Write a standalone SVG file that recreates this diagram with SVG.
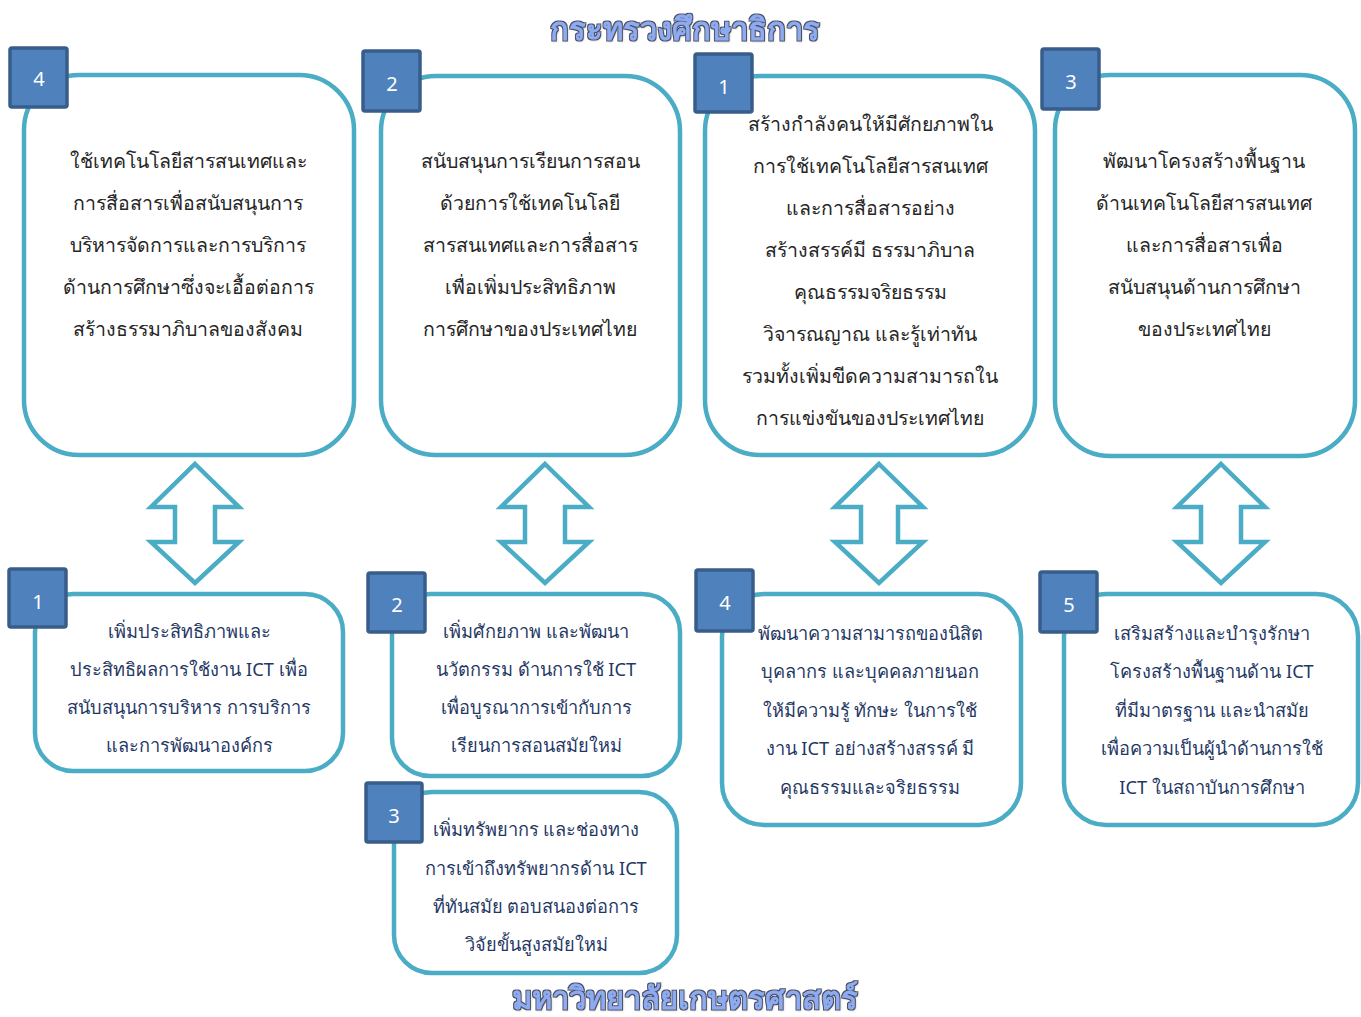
<svg xmlns="http://www.w3.org/2000/svg" width="1361" height="1017" viewBox="0 0 1361 1017">
<style>
.box{fill:#fff;stroke:#4bacc6;stroke-width:4.5}
.badge{fill:#4f81bd;stroke:#385d8a;stroke-width:3.5}
.num{font-family:"Noto Sans","Liberation Sans",sans-serif;font-size:20px;fill:#fff;text-anchor:middle}
.tt{font-family:"Noto Sans","Liberation Sans",sans-serif;font-size:19.5px;fill:#262626;text-anchor:middle}
.bt{font-family:"Noto Sans","Liberation Sans",sans-serif;font-size:18.2px;fill:#1f3864;text-anchor:middle}
.title{font-family:"Noto Sans","Liberation Sans",sans-serif;font-size:31px;font-weight:bold;fill:#8eaaf0;text-anchor:middle;filter:url(#sh)}
.arr{fill:#fff;stroke:#4bacc6;stroke-width:4.5;stroke-linejoin:miter}
</style>
<defs>
<filter id="sh" x="-10%" y="-30%" width="120%" height="160%">
<feMorphology in="SourceAlpha" operator="dilate" radius="0.6" result="d"/>
<feFlood flood-color="#4a4f62" result="c"/>
<feComposite in="c" in2="d" operator="in" result="outline"/>
<feGaussianBlur in="SourceAlpha" stdDeviation="1" result="b"/>
<feOffset in="b" dx="1.2" dy="1.2" result="ob"/>
<feFlood flood-color="#999" flood-opacity="0.7"/>
<feComposite in2="ob" operator="in" result="shadow"/>
<feMerge><feMergeNode in="shadow"/><feMergeNode in="outline"/><feMergeNode in="SourceGraphic"/></feMerge>
</filter>
</defs>
<rect width="1361" height="1017" fill="#fff"/>
<text class="title" x="685" y="40">กระทรวงศึกษาธิการ</text>
<text class="title" x="685" y="1009">มหาวิทยาลัยเกษตรศาสตร์</text>

<g id="connectors">
<polygon class="arr" points="195,464 239,507 215,507 215,542 239,542 195,583 151,542 175,542 175,507 151,507"/>
<polygon class="arr" points="545,464 589,507 565,507 565,542 589,542 545,583 501,542 525,542 525,507 501,507"/>
<polygon class="arr" points="879,464 923,507 898,507 898,542 923,542 879,583 835,542 861,542 861,507 835,507"/>
<polygon class="arr" points="1221,464 1265,507 1241,507 1241,542 1265,542 1221,583 1177,542 1201,542 1201,507 1177,507"/>
</g>

<g id="top4">
<rect class="box" x="24" y="75" width="330" height="380" rx="55"/>
<rect class="badge" x="10" y="48" width="57" height="59" rx="2"/>
<text class="num" x="39" y="86">4</text>
<text class="tt"><tspan x="188" y="168">ใช้เทคโนโลยีสารสนเทศและ</tspan><tspan x="188" y="210">การสื่อสารเพื่อสนับสนุนการ</tspan><tspan x="188" y="252">บริหารจัดการและการบริการ</tspan><tspan x="188" y="294">ด้านการศึกษาซึ่งจะเอื้อต่อการ</tspan><tspan x="188" y="336">สร้างธรรมาภิบาลของสังคม</tspan></text>
</g>

<g id="top2">
<rect class="box" x="381" y="76" width="299" height="379" rx="55"/>
<rect class="badge" x="363" y="51" width="57" height="60" rx="2"/>
<text class="num" x="392" y="91">2</text>
<text class="tt"><tspan x="530" y="168">สนับสนุนการเรียนการสอน</tspan><tspan x="530" y="210">ด้วยการใช้เทคโนโลยี</tspan><tspan x="530" y="252">สารสนเทศและการสื่อสาร</tspan><tspan x="530" y="294">เพื่อเพิ่มประสิทธิภาพ</tspan><tspan x="530" y="336">การศึกษาของประเทศไทย</tspan></text>
</g>

<g id="top1">
<rect class="box" x="705" y="76" width="330" height="379" rx="55"/>
<rect class="badge" x="695" y="54" width="57" height="58" rx="2"/>
<text class="num" x="724" y="94">1</text>
<text class="tt"><tspan x="870" y="131">สร้างกำลังคนให้มีศักยภาพใน</tspan><tspan x="870" y="173">การใช้เทคโนโลยีสารสนเทศ</tspan><tspan x="870" y="215">และการสื่อสารอย่าง</tspan><tspan x="870" y="257">สร้างสรรค์มี ธรรมาภิบาล</tspan><tspan x="870" y="299">คุณธรรมจริยธรรม</tspan><tspan x="870" y="341">วิจารณญาณ และรู้เท่าทัน</tspan><tspan x="870" y="383">รวมทั้งเพิ่มขีดความสามารถใน</tspan><tspan x="870" y="425">การแข่งขันของประเทศไทย</tspan></text>
</g>

<g id="top3">
<rect class="box" x="1055" y="75" width="300" height="381" rx="55"/>
<rect class="badge" x="1042" y="49" width="57" height="60" rx="2"/>
<text class="num" x="1071" y="89">3</text>
<text class="tt"><tspan x="1204" y="168">พัฒนาโครงสร้างพื้นฐาน</tspan><tspan x="1204" y="210">ด้านเทคโนโลยีสารสนเทศ</tspan><tspan x="1204" y="252">และการสื่อสารเพื่อ</tspan><tspan x="1204" y="294">สนับสนุนด้านการศึกษา</tspan><tspan x="1204" y="336">ของประเทศไทย</tspan></text>
</g>

<g id="bot1">
<rect class="box" x="35" y="594" width="308" height="177" rx="38"/>
<rect class="badge" x="9" y="569" width="57" height="58" rx="2"/>
<text class="num" x="38" y="609">1</text>
<text class="bt"><tspan x="189" y="638">เพิ่มประสิทธิภาพและ</tspan><tspan x="189" y="676">ประสิทธิผลการใช้งาน ICT เพื่อ</tspan><tspan x="189" y="714">สนับสนุนการบริหาร การบริการ</tspan><tspan x="189" y="752">และการพัฒนาองค์กร</tspan></text>
</g>

<g id="bot2">
<rect class="box" x="392" y="594" width="288" height="182" rx="38"/>
<rect class="badge" x="368" y="573" width="57" height="59" rx="2"/>
<text class="num" x="397" y="612">2</text>
<text class="bt"><tspan x="536" y="638">เพิ่มศักยภาพ และพัฒนา</tspan><tspan x="536" y="676">นวัตกรรม ด้านการใช้ ICT</tspan><tspan x="536" y="714">เพื่อบูรณาการเข้ากับการ</tspan><tspan x="536" y="752">เรียนการสอนสมัยใหม่</tspan></text>
</g>

<g id="bot3">
<rect class="box" x="394" y="792" width="283" height="181" rx="38"/>
<rect class="badge" x="366" y="783" width="56" height="59" rx="2"/>
<text class="num" x="394" y="823">3</text>
<text class="bt"><tspan x="536" y="836">เพิ่มทรัพยากร และช่องทาง</tspan><tspan x="536" y="875">การเข้าถึงทรัพยากรด้าน ICT</tspan><tspan x="536" y="913">ที่ทันสมัย ตอบสนองต่อการ</tspan><tspan x="536" y="951">วิจัยขั้นสูงสมัยใหม่</tspan></text>
</g>

<g id="bot4">
<rect class="box" x="722" y="594" width="299" height="231" rx="42"/>
<rect class="badge" x="696" y="570" width="57" height="61" rx="2"/>
<text class="num" x="725" y="610">4</text>
<text class="bt"><tspan x="870" y="640">พัฒนาความสามารถของนิสิต</tspan><tspan x="870" y="678">บุคลากร และบุคคลภายนอก</tspan><tspan x="870" y="717">ให้มีความรู้ ทักษะ ในการใช้</tspan><tspan x="870" y="755">งาน ICT อย่างสร้างสรรค์ มี</tspan><tspan x="870" y="794">คุณธรรมและจริยธรรม</tspan></text>
</g>

<g id="bot5">
<rect class="box" x="1064" y="594" width="294" height="231" rx="42"/>
<rect class="badge" x="1040" y="572" width="57" height="60" rx="2"/>
<text class="num" x="1069" y="612">5</text>
<text class="bt"><tspan x="1212" y="640">เสริมสร้างและบำรุงรักษา</tspan><tspan x="1212" y="678">โครงสร้างพื้นฐานด้าน ICT</tspan><tspan x="1212" y="717">ที่มีมาตรฐาน และนำสมัย</tspan><tspan x="1212" y="755">เพื่อความเป็นผู้นำด้านการใช้</tspan><tspan x="1212" y="794">ICT ในสถาบันการศึกษา</tspan></text>
</g>
</svg>
